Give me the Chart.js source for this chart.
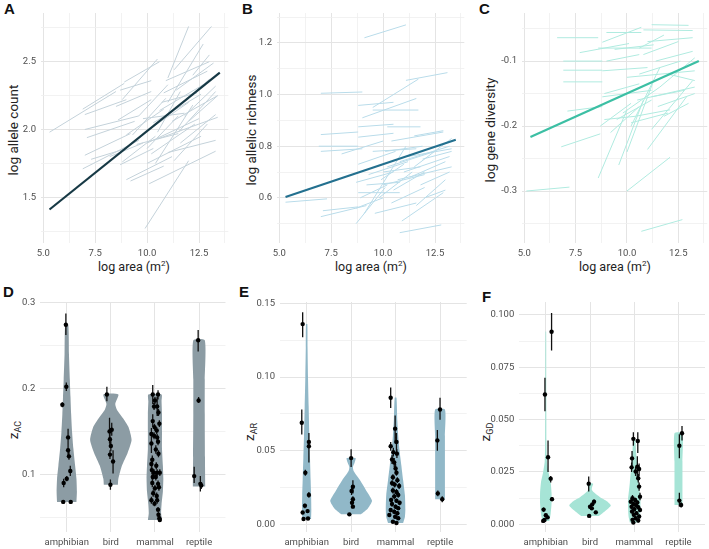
<!DOCTYPE html>
<html>
<head>
<meta charset="utf-8">
<script src="https://cdn.jsdelivr.net/npm/chart.js@4.4.1/dist/chart.umd.min.js"></script>
<style>
  body { margin: 0; width: 709px; height: 549px; position: relative; overflow: hidden; background: #fff; font-family: Roboto, sans-serif; }
  canvas { position: absolute; left: 0; top: 0; }
  .tag { position: absolute; font: bold 15px "Liberation Sans", Arial, sans-serif; color: #111; line-height: 15px; }
  .xt { position: absolute; font-size: 12.5px; color: #222; line-height: 15px; transform: translateX(-50%); white-space: nowrap; }
  .yt { position: absolute; font-size: 13.5px; color: #222; line-height: 15px; transform: translate(-50%, -50%) rotate(-90deg); white-space: nowrap; }
  sup { font-size: 8px; line-height: 0; }
  sub { font-size: 9px; line-height: 0; }
</style>
</head>
<body>
<div class="tag" style="left:4px;top:1px">A</div>
<div class="tag" style="left:242px;top:1px">B</div>
<div class="tag" style="left:479px;top:1px">C</div>
<div class="tag" style="left:3px;top:284px">D</div>
<div class="tag" style="left:239px;top:284px">E</div>
<div class="tag" style="left:482px;top:289px">F</div>

<div class="yt" style="left:13px;top:130px">log allele count</div>
<div class="yt" style="left:251px;top:130px">log allelic richness</div>
<div class="yt" style="left:490px;top:130px">log gene diversity</div>
<div class="xt" style="left:134px;top:259px">log area (m<sup>2</sup>)</div>
<div class="xt" style="left:371px;top:259px">log area (m<sup>2</sup>)</div>
<div class="xt" style="left:615px;top:259px">log area (m<sup>2</sup>)</div>
<div class="yt" style="left:13px;top:430px">z<sub>AC</sub></div>
<div class="yt" style="left:249px;top:432px">z<sub>AR</sub></div>
<div class="yt" style="left:485px;top:432px">z<sub>GD</sub></div>

<script>
// ---- data: top row, population trajectories [x1, y1, x2, y2] (log area -> log metric)
const segsA = [
  [5.3,1.98,8.5,2.28],[6.9,2.15,8.9,2.34],[7.0,2.11,9.0,2.22],[7.0,2.00,9.6,2.10],
  [7.1,1.94,9.4,2.06],[7.0,1.81,9.2,1.97],[6.9,1.71,9.6,1.92],[7.3,1.78,9.0,1.86],
  [8.5,2.17,10.2,2.28],[8.8,2.22,10.5,2.52],[8.9,2.35,10.6,2.50],[8.7,2.29,10.2,2.36],
  [8.6,2.07,10.2,2.22],[8.8,1.76,10.4,1.95],[8.7,1.74,10.3,1.86],[9.0,1.96,10.8,2.15],
  [9.2,1.62,10.8,1.73],[9.0,1.63,11.2,1.80],[9.3,1.96,10.9,2.23],[9.6,2.10,11.0,2.33],
  [9.9,1.27,12.0,1.77],[10.1,1.60,13.3,1.84],[10.0,1.75,12.6,1.95],[10.2,1.82,12.3,2.04],
  [10.0,1.90,12.5,2.08],[10.1,2.00,12.0,2.20],[10.3,2.05,12.6,2.26],[10.5,1.93,13.4,2.09],
  [10.0,1.86,11.5,2.10],[10.4,1.75,12.2,2.18],[10.6,2.14,12.7,2.33],[10.8,2.27,12.9,2.43],
  [10.9,2.36,13.0,2.50],[11.0,2.38,12.0,2.76],[11.3,2.44,13.1,2.76],[11.0,2.20,12.7,2.63],
  [11.4,2.29,13.2,2.49],[11.2,2.06,13.4,2.25],[11.5,1.98,13.3,2.28],[11.6,1.90,13.3,2.11],
  [11.3,1.77,12.9,2.04],[11.0,1.83,13.3,1.92],[11.8,2.10,13.3,2.32],[11.7,2.20,13.0,2.37],
  [12.0,2.06,13.4,2.25],[9.5,1.89,11.5,1.97],[9.8,2.08,11.8,2.12],[10.7,2.20,12.4,2.27],
  [10.5,1.98,11.6,2.28],[12.2,2.40,13.0,2.55],[8.2,1.80,9.8,1.90]
];
const segsB = [
  [9.1,1.22,11.1,1.27],[7.0,1.005,9.0,1.01],[5.3,0.583,7.3,0.596],[7.0,0.527,9.2,0.57],
  [7.1,0.55,8.8,0.565],[10.8,0.465,12.8,0.495],[11.1,1.055,13.1,1.085],[9.5,0.95,11.7,1.06],
  [8.8,0.958,10.5,0.97],[9.5,0.94,11.7,0.94],[9.0,0.91,11.6,0.985],[8.8,0.875,10.5,0.885],
  [10.2,0.875,11.8,0.875],[7.0,0.845,8.8,0.855],[6.9,0.80,8.8,0.80],[7.0,0.78,9.0,0.79],
  [8.0,0.77,10.0,0.82],[8.8,0.835,10.5,0.85],[8.8,0.73,10.6,0.78],[8.7,0.50,10.1,0.64],
  [9.1,0.54,11.1,0.80],[10.9,0.51,12.9,0.62],[11.6,0.57,13.0,0.67],[9.6,0.54,11.6,0.58],
  [10.4,0.82,12.9,0.855],[11.5,0.84,12.9,0.86],[9.5,0.78,11.6,0.79],[8.7,0.66,10.5,0.70],
  [8.8,0.62,10.8,0.62],[8.9,0.60,10.2,0.65],[9.3,0.69,11.2,0.74],[9.8,0.60,11.4,0.70],
  [10.0,0.65,12.0,0.69],[10.2,0.72,12.5,0.78],[10.5,0.63,12.0,0.70],[10.7,0.67,13.3,0.72],
  [10.8,0.74,13.2,0.80],[11.0,0.70,13.2,0.76],[11.2,0.76,13.3,0.79],[11.3,0.68,13.0,0.74],
  [11.5,0.72,13.3,0.83],[11.8,0.65,13.2,0.70],[10.0,0.70,11.8,0.72],[10.4,0.58,12.0,0.64],
  [9.2,0.65,10.8,0.66],[11.9,0.75,13.3,0.78],[10.1,0.78,11.9,0.80],[8.7,0.56,10.0,0.60],
  [12.0,0.60,13.0,0.63],[9.9,0.67,11.0,0.73]
];
const segsC = [
  [5.1,-0.300,7.2,-0.294],[10.7,-0.362,12.7,-0.344],[10.0,-0.300,12.1,-0.248],[8.6,-0.280,10.0,-0.175],
  [6.8,-0.232,8.7,-0.212],[6.6,-0.064,8.6,-0.064],[6.9,-0.100,8.8,-0.100],[6.9,-0.114,8.8,-0.114],
  [6.9,-0.132,8.8,-0.132],[8.8,-0.071,10.7,-0.048],[9.0,-0.056,10.7,-0.056],[7.7,-0.087,10.1,-0.073],
  [8.6,-0.080,11.2,-0.080],[11.2,-0.044,13.0,-0.045],[10.8,-0.052,13.2,-0.053],[11.0,-0.070,13.2,-0.064],
  [7.1,-0.177,8.8,-0.170],[9.0,-0.100,10.6,-0.090],[9.4,-0.082,11.3,-0.075],[8.8,-0.115,11.0,-0.110],
  [8.9,-0.150,10.6,-0.135],[8.8,-0.155,11.2,-0.145],[8.7,-0.200,10.2,-0.165],[9.2,-0.210,10.6,-0.170],
  [9.5,-0.190,11.2,-0.160],[10.0,-0.240,11.3,-0.130],[10.2,-0.200,11.6,-0.110],[10.4,-0.185,12.1,-0.175],
  [10.6,-0.120,12.6,-0.100],[10.0,-0.125,13.3,-0.115],[10.5,-0.160,13.3,-0.140],[11.0,-0.236,12.9,-0.155],
  [11.2,-0.205,13.2,-0.130],[11.5,-0.170,13.3,-0.150],[11.4,-0.100,13.2,-0.085],[11.6,-0.140,13.3,-0.095],
  [10.8,-0.090,12.5,-0.070],[11.8,-0.185,13.0,-0.165],[9.6,-0.260,10.8,-0.160],[10.2,-0.195,12.0,-0.180],
  [9.8,-0.180,11.6,-0.140],[12.0,-0.120,13.3,-0.130],[10.6,-0.080,11.8,-0.060],[8.9,-0.190,10.4,-0.185],
  [11.2,-0.155,12.8,-0.145]
];
// overall fitted lines [x1, y1, x2, y2]
const fitA = [5.3, 1.41, 13.5, 2.42];
const fitB = [5.3, 0.603, 13.5, 0.825];
const fitC = [5.3, -0.217, 13.5, -0.100];

const areaTicks = [5, 7.5, 10, 12.5];
const ticksA = [1.5, 2.0, 2.5];
const ticksB = [0.6, 0.8, 1.0, 1.2];
const ticksC = [-0.3, -0.2, -0.1];

// ---- data: bottom row, slopes per population [jitter, z, lower, upper]
const categories = ['amphibian', 'bird', 'mammal', 'reptile'];

const zacAmphibian = [[-0.02,0.274,0.262,0.287],[-0.01,0.202,0.197,0.207],[-0.10,0.181,0.178,0.184],[0.03,0.143,0.134,0.153],
  [0.03,0.128,0.122,0.134],[0.05,0.121,0.117,0.126],[0.08,0.104,0.098,0.110],[0.00,0.095,0.092,0.098],
  [-0.07,0.090,0.085,0.095],[-0.08,0.068,0.066,0.070],[0.09,0.068,0.066,0.070]];
const zacBird = [[-0.09,0.193,0.185,0.202],[-0.03,0.150,0.136,0.166],[0.02,0.152,0.145,0.160],[-0.02,0.141,0.135,0.148],
  [0.00,0.133,0.127,0.140],[-0.02,0.123,0.118,0.128],[0.05,0.115,0.101,0.128],[-0.01,0.088,0.082,0.094]];
const zacMammal = [[-0.05,0.193,0.182,0.204],[0.07,0.193,0.187,0.198],[0.00,0.186,0.182,0.190],[-0.02,0.179,0.175,0.183],
  [0.05,0.179,0.168,0.190],[0.08,0.172,0.168,0.176],[-0.05,0.162,0.155,0.170],[0.10,0.159,0.155,0.163],
  [-0.01,0.155,0.151,0.159],[0.04,0.151,0.147,0.155],[-0.08,0.147,0.140,0.154],[-0.02,0.145,0.141,0.149],
  [0.05,0.143,0.139,0.147],[-0.08,0.136,0.125,0.148],[0.07,0.138,0.134,0.142],[0.02,0.129,0.124,0.134],
  [0.08,0.124,0.120,0.128],[-0.06,0.117,0.112,0.122],[-0.08,0.112,0.106,0.118],[0.03,0.110,0.106,0.114],
  [-0.07,0.105,0.100,0.110],[0.05,0.102,0.098,0.106],[-0.02,0.102,0.098,0.106],[0.11,0.102,0.098,0.106],
  [-0.05,0.097,0.093,0.101],[0.02,0.097,0.093,0.101],[-0.06,0.090,0.085,0.095],[0.07,0.089,0.085,0.093],
  [0.00,0.084,0.080,0.088],[0.09,0.085,0.081,0.089],[-0.04,0.078,0.074,0.082],[0.04,0.075,0.071,0.079],
  [-0.08,0.070,0.066,0.074],[0.05,0.070,0.066,0.074],[-0.01,0.066,0.063,0.069],[0.07,0.059,0.056,0.062],
  [0.08,0.053,0.050,0.056],[0.10,0.049,0.047,0.051],[0.11,0.047,0.045,0.049]];
const zacReptile = [[-0.02,0.256,0.243,0.268],[-0.01,0.186,0.183,0.190],[-0.11,0.098,0.090,0.109],
  [0.03,0.089,0.080,0.098],[0.05,0.087,0.083,0.091]];

const zarAmphibian = [[-0.09,0.136,0.127,0.144],[-0.11,0.069,0.061,0.078],[0.05,0.056,0.049,0.062],[0.05,0.053,0.042,0.059],
  [-0.03,0.035,0.033,0.037],[0.05,0.020,0.018,0.022],[-0.04,0.0127,0.011,0.014],[-0.09,0.008,0.007,0.009],
  [0.02,0.009,0.008,0.010],[-0.07,0.0036,0.003,0.004],[0.03,0.004,0.0035,0.0045]];
const zarBird = [[0.00,0.045,0.039,0.051],[0.04,0.0255,0.021,0.030],[0.01,0.0226,0.020,0.025],[0.04,0.017,0.015,0.019],
  [0.02,0.0147,0.013,0.016],[0.04,0.012,0.011,0.013],[-0.04,0.0068,0.006,0.0075]];
const zarMammal = [[-0.11,0.086,0.079,0.093],[-0.01,0.065,0.055,0.074],[0.02,0.056,0.049,0.062],[-0.11,0.053,0.050,0.056],
  [0.03,0.048,0.045,0.051],[-0.05,0.049,0.046,0.052],[-0.08,0.044,0.041,0.047],[-0.03,0.042,0.039,0.045],
  [0.00,0.038,0.035,0.041],[0.02,0.035,0.033,0.037],[-0.06,0.032,0.030,0.034],[0.04,0.030,0.028,0.032],
  [-0.08,0.028,0.026,0.030],[-0.02,0.027,0.025,0.029],[0.08,0.026,0.024,0.028],[-0.06,0.023,0.021,0.025],
  [0.02,0.022,0.020,0.024],[0.06,0.020,0.018,0.022],[-0.03,0.019,0.017,0.021],[-0.10,0.0165,0.015,0.018],
  [0.02,0.016,0.0145,0.0175],[0.09,0.0147,0.013,0.016],[-0.08,0.0138,0.012,0.015],[0.00,0.012,0.0105,0.0135],
  [0.06,0.011,0.0095,0.0125],[-0.11,0.0097,0.008,0.011],[-0.03,0.0086,0.007,0.010],[0.04,0.0075,0.006,0.009],
  [-0.14,0.0063,0.005,0.0075],[-0.01,0.0052,0.004,0.0065],[0.06,0.0041,0.003,0.0055],[-0.06,0.0018,0.001,0.003],
  [0.02,0.0009,0.0003,0.002]];
const zarReptile = [[0.00,0.078,0.071,0.086],[-0.06,0.057,0.050,0.064],[-0.05,0.021,0.019,0.023],[0.05,0.017,0.015,0.019]];

const zgdAmphibian = [[0.13,0.092,0.083,0.101],[-0.02,0.062,0.054,0.070],[0.05,0.032,0.025,0.040],[0.11,0.0218,0.020,0.023],
  [0.14,0.012,0.011,0.013],[-0.05,0.007,0.006,0.008],[-0.03,0.002,0.0015,0.0025],[-0.06,0.0016,0.001,0.002],
  [0.00,0.0043,0.0035,0.005],[0.04,0.0033,0.0028,0.0038]];
const zgdBird = [[-0.03,0.0194,0.0156,0.0228],[0.09,0.0108,0.0098,0.0118],[0.05,0.0095,0.0088,0.0102],[0.00,0.0084,0.0078,0.009],
  [0.04,0.0076,0.007,0.0082],[0.13,0.0057,0.005,0.0064],[-0.02,0.004,0.0035,0.0045]];
const zgdMammal = [[-0.02,0.0408,0.0375,0.044],[0.08,0.0398,0.034,0.044],[-0.05,0.0315,0.0275,0.035],[-0.06,0.0272,0.025,0.0295],
  [0.07,0.0275,0.022,0.0325],[0.11,0.0264,0.023,0.029],[0.03,0.0252,0.023,0.0275],[0.09,0.022,0.020,0.024],
  [0.11,0.018,0.016,0.020],[0.13,0.0132,0.0115,0.015],[-0.04,0.0124,0.011,0.014],[0.02,0.0116,0.0105,0.0127],
  [-0.08,0.0108,0.0098,0.0118],[0.07,0.0104,0.0094,0.0114],[-0.02,0.0097,0.0087,0.0107],[0.04,0.0091,0.0081,0.0101],
  [-0.06,0.0084,0.0074,0.0094],[0.09,0.0081,0.0071,0.0091],[0.00,0.0072,0.0062,0.0082],[0.13,0.0068,0.0058,0.0078],
  [-0.05,0.0061,0.0051,0.0071],[0.05,0.0053,0.0043,0.0063],[-0.01,0.0045,0.0035,0.0055],[0.11,0.0037,0.0027,0.0047],
  [0.03,0.0029,0.0019,0.0039],[-0.04,0.0021,0.0011,0.0031],[0.09,0.0018,0.0008,0.0028],[-0.02,0.0008,0.0003,0.0015]];
const zgdReptile = [[0.02,0.0375,0.0315,0.043],[0.08,0.0435,0.040,0.047],[0.02,0.0113,0.0085,0.015],[0.06,0.0092,0.008,0.0105]];

// violin outlines [z, half width] from bottom to top
const violinAC = [
  [[0.068,0.22],[0.08,0.23],[0.095,0.22],[0.11,0.19],[0.13,0.15],[0.15,0.12],[0.17,0.10],[0.19,0.085],[0.21,0.07],[0.24,0.05],[0.274,0.035]],
  [[0.088,0.16],[0.095,0.17],[0.11,0.25],[0.125,0.38],[0.14,0.47],[0.155,0.40],[0.165,0.28],[0.175,0.14],[0.182,0.10],[0.193,0.17]],
  [[0.047,0.16],[0.055,0.14],[0.065,0.15],[0.08,0.18],[0.095,0.19],[0.11,0.18],[0.13,0.16],[0.15,0.16],[0.17,0.16],[0.185,0.15],[0.193,0.15]],
  [[0.086,0.14],[0.12,0.135],[0.17,0.13],[0.21,0.13],[0.256,0.13]]
];
const violinAR = [
  [[0.0036,0.10],[0.01,0.105],[0.02,0.10],[0.03,0.09],[0.045,0.075],[0.06,0.06],[0.08,0.045],[0.10,0.03],[0.12,0.02],[0.136,0.015]],
  [[0.0068,0.22],[0.011,0.38],[0.016,0.47],[0.022,0.36],[0.03,0.20],[0.036,0.06],[0.039,0.04],[0.042,0.08],[0.045,0.10]],
  [[0.0009,0.17],[0.005,0.21],[0.01,0.22],[0.02,0.21],[0.03,0.17],[0.04,0.13],[0.05,0.09],[0.06,0.06],[0.07,0.04],[0.086,0.02]],
  [[0.017,0.11],[0.04,0.11],[0.06,0.11],[0.078,0.11]]
];
const violinGD = [
  [[0.0016,0.08],[0.005,0.11],[0.01,0.13],[0.015,0.13],[0.02,0.11],[0.025,0.06],[0.03,0.025],[0.04,0.015],[0.06,0.012],[0.092,0.008]],
  [[0.004,0.20],[0.0065,0.35],[0.009,0.47],[0.011,0.38],[0.013,0.22],[0.015,0.10],[0.0165,0.04],[0.018,0.05],[0.0194,0.07]],
  [[0.0008,0.10],[0.004,0.13],[0.008,0.14],[0.012,0.14],[0.016,0.12],[0.02,0.10],[0.025,0.08],[0.03,0.06],[0.035,0.04],[0.041,0.02]],
  [[0.0092,0.09],[0.02,0.09],[0.03,0.09],[0.0435,0.09]]
];

const ticksAC = [0.1, 0.2, 0.3];
const ticksAR = [0.00, 0.05, 0.10, 0.15];
const ticksGD = [0.000, 0.025, 0.050, 0.075, 0.100];

// ---- layout helpers
const W = 709, H = 549, YW = 30, XH = 20;

function tickValues(major, lo, hi, minor) {
  const step = major.length > 1 ? major[1] - major[0] : 1;
  const h = minor ? step / 2 : step;
  let v = major[0];
  while (v - h >= lo - 1e-9) v -= h;
  const out = [];
  for (; v <= hi + 1e-9; v += h) out.push(+v.toFixed(6));
  return out;
}

function isMajor(major, v) {
  return major.some(m => Math.abs(m - v) < 1e-7);
}

function axis(range, major, minor, label, horizontal) {
  const vals = tickValues(major, range[0], range[1], minor);
  return {
    type: 'linear', min: range[0], max: range[1],
    border: { display: false },
    grid: {
      drawTicks: false,
      color: c => (c.tick && isMajor(major, c.tick.value)) ? '#e4e4e4' : '#efefef',
      lineWidth: c => (c.tick && isMajor(major, c.tick.value)) ? 1 : 0.8
    },
    ticks: {
      autoSkip: false, maxRotation: 0, padding: 5,
      color: '#4f4f4f', font: { family: 'Roboto', size: 9.5 },
      callback: v => isMajor(major, v) ? label(v) : ''
    },
    afterBuildTicks: s => { s.ticks = vals.map(v => ({ value: v })); },
    afterFit: s => { if (horizontal) s.height = XH; else s.width = YW; }
  };
}

function panel(area, xAxis, yAxis, datasets) {
  const cv = document.createElement('canvas');
  cv.width = W; cv.height = H;
  document.body.appendChild(cv);
  return new Chart(cv, {
    type: 'line',
    data: { datasets: datasets },
    options: {
      responsive: false, animation: false, events: [],
      layout: { padding: { left: area[0] - YW, top: area[1], right: W - area[2], bottom: H - area[3] - XH } },
      plugins: { legend: { display: false }, tooltip: { enabled: false } },
      scales: { x: xAxis, y: yAxis }
    }
  });
}

function trajectorySets(segs, fit, segColor, fitColor) {
  const pts = [];
  segs.forEach(s => pts.push({ x: s[0], y: s[1] }, { x: s[2], y: s[3] }, { x: NaN, y: NaN }));
  return [
    { data: [{ x: fit[0], y: fit[1] }, { x: fit[2], y: fit[3] }], borderColor: fitColor, borderWidth: 2.2, pointRadius: 0 },
    { data: pts, borderColor: segColor, borderWidth: 1, pointRadius: 0, spanGaps: false }
  ];
}

function violinSets(groups, outlines, fillColor) {
  const pts = [], bars = [];
  groups.forEach((rows, i) => rows.forEach(r => {
    const x = i + 1 + r[0];
    pts.push({ x: x, y: r[1] });
    bars.push({ x: x, y: r[2] }, { x: x, y: r[3] }, { x: NaN, y: NaN });
  }));
  const sets = [
    { data: pts, showLine: false, pointRadius: 2.2, pointBackgroundColor: '#000', pointBorderColor: '#000', pointBorderWidth: 0 },
    { data: bars, borderColor: '#111', borderWidth: 1.3, pointRadius: 0, spanGaps: false }
  ];
  outlines.forEach((o, i) => {
    const c = i + 1;
    const left = o.map(p => ({ x: c - p[1], y: p[0] }));
    const right = o.slice().reverse().map(p => ({ x: c + p[1], y: p[0] }));
    sets.push({ data: left.concat(right), fill: 'shape', backgroundColor: fillColor, borderWidth: 0, pointRadius: 0, tension: 0.2 });
  });
  return sets;
}

const xArea = [4.89, 13.91];
const fmt = d => v => v.toFixed(d);
const catAxis = () => axis([0.4, 4.6], [1, 2, 3, 4], false, v => categories[Math.round(v) - 1], true);

panel([41, 13, 228.3, 243], axis(xArea, areaTicks, true, fmt(1), true), axis([1.163, 2.859], ticksA, true, fmt(1), false),
  trajectorySets(segsA, fitA, '#c4d2da', '#173945'));
panel([277, 13, 464.3, 243], axis(xArea, areaTicks, true, fmt(1), true), axis([0.425, 1.316], ticksB, true, fmt(1), false),
  trajectorySets(segsB, fitB, '#b9dcea', '#23708f'));
panel([522, 13, 708, 243], axis(xArea, areaTicks, true, fmt(1), true), axis([-0.38, -0.026], ticksC, true, fmt(1), false),
  trajectorySets(segsC, fitC, '#b0ebe0', '#3cbfa4'));

panel([40.3, 302, 225.5, 532], catAxis(), axis([0.033, 0.3005], ticksAC, true, fmt(1), false),
  violinSets([zacAmphibian, zacBird, zacMammal, zacReptile], violinAC, '#8c9ca4'));
panel([280, 302, 466.7, 532], catAxis(), axis([-0.0052, 0.151], ticksAR, true, fmt(2), false),
  violinSets([zarAmphibian, zarBird, zarMammal, zarReptile], violinAR, '#91b8c8'));
panel([519.3, 302, 706, 532], catAxis(), axis([-0.0037, 0.1062], ticksGD, true, fmt(3), false),
  violinSets([zgdAmphibian, zgdBird, zgdMammal, zgdReptile], violinGD, '#a6e4d6'));
</script>
</body>
</html>
